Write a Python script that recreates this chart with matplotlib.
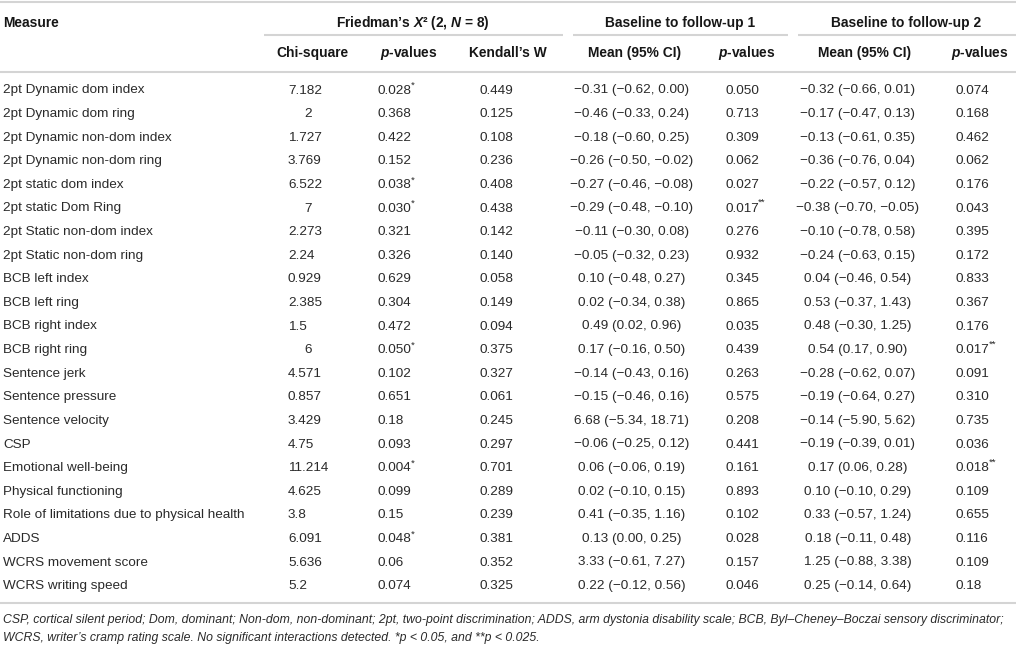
import matplotlib
matplotlib.use("Agg")
import matplotlib.pyplot as plt

plt.rcParams['font.family'] = ['Liberation Sans', 'DejaVu Sans']
plt.rcParams['mathtext.fontset'] = 'custom'
plt.rcParams['mathtext.rm'] = 'Liberation Sans'
plt.rcParams['mathtext.it'] = 'Liberation Sans:italic:bold'
plt.rcParams['mathtext.bf'] = 'Liberation Sans:bold'

measures = [
    "2pt Dynamic dom index", "2pt Dynamic dom ring", "2pt Dynamic non-dom index",
    "2pt Dynamic non-dom ring", "2pt static dom index", "2pt static Dom Ring",
    "2pt Static non-dom index", "2pt Static non-dom ring", "BCB left index",
    "BCB left ring", "BCB right index", "BCB right ring", "Sentence jerk",
    "Sentence pressure", "Sentence velocity", "CSP", "Emotional well-being",
    "Physical functioning", "Role of limitations due to physical health",
    "ADDS", "WCRS movement score", "WCRS writing speed",
]
chi_square = ["7.182", "2", "1.727", "3.769", "6.522", "7", "2.273", "2.24",
              "0.929", "2.385", "1.5", "6", "4.571", "0.857", "3.429", "4.75",
              "11.214", "4.625", "3.8", "6.091", "5.636", "5.2"]
p_friedman = ["0.028*", "0.368", "0.422", "0.152", "0.038*", "0.030*", "0.321",
              "0.326", "0.629", "0.304", "0.472", "0.050*", "0.102", "0.651",
              "0.18", "0.093", "0.004*", "0.099", "0.15", "0.048*", "0.06", "0.074"]
kendall_w = ["0.449", "0.125", "0.108", "0.236", "0.408", "0.438", "0.142",
             "0.140", "0.058", "0.149", "0.094", "0.375", "0.327", "0.061",
             "0.245", "0.297", "0.701", "0.289", "0.239", "0.381", "0.352", "0.325"]
mean_fu1 = ["−0.31 (−0.62, 0.00)", "−0.46 (−0.33, 0.24)", "−0.18 (−0.60, 0.25)",
            "−0.26 (−0.50, −0.02)", "−0.27 (−0.46, −0.08)", "−0.29 (−0.48, −0.10)",
            "−0.11 (−0.30, 0.08)", "−0.05 (−0.32, 0.23)", "0.10 (−0.48, 0.27)",
            "0.02 (−0.34, 0.38)", "0.49 (0.02, 0.96)", "0.17 (−0.16, 0.50)",
            "−0.14 (−0.43, 0.16)", "−0.15 (−0.46, 0.16)", "6.68 (−5.34, 18.71)",
            "−0.06 (−0.25, 0.12)", "0.06 (−0.06, 0.19)", "0.02 (−0.10, 0.15)",
            "0.41 (−0.35, 1.16)", "0.13 (0.00, 0.25)", "3.33 (−0.61, 7.27)",
            "0.22 (−0.12, 0.56)"]
p_fu1 = ["0.050", "0.713", "0.309", "0.062", "0.027", "0.017**", "0.276", "0.932",
         "0.345", "0.865", "0.035", "0.439", "0.263", "0.575", "0.208", "0.441",
         "0.161", "0.893", "0.102", "0.028", "0.157", "0.046"]
mean_fu2 = ["−0.32 (−0.66, 0.01)", "−0.17 (−0.47, 0.13)", "−0.13 (−0.61, 0.35)",
            "−0.36 (−0.76, 0.04)", "−0.22 (−0.57, 0.12)", "−0.38 (−0.70, −0.05)",
            "−0.10 (−0.78, 0.58)", "−0.24 (−0.63, 0.15)", "0.04 (−0.46, 0.54)",
            "0.53 (−0.37, 1.43)", "0.48 (−0.30, 1.25)", "0.54 (0.17, 0.90)",
            "−0.28 (−0.62, 0.07)", "−0.19 (−0.64, 0.27)", "−0.14 (−5.90, 5.62)",
            "−0.19 (−0.39, 0.01)", "0.17 (0.06, 0.28)", "0.10 (−0.10, 0.29)",
            "0.33 (−0.57, 1.24)", "0.18 (−0.11, 0.48)", "1.25 (−0.88, 3.38)",
            "0.25 (−0.14, 0.64)"]
p_fu2 = ["0.074", "0.168", "0.462", "0.062", "0.176", "0.043", "0.395", "0.172",
         "0.833", "0.367", "0.176", "0.017**", "0.091", "0.310", "0.735", "0.036",
         "0.018**", "0.109", "0.655", "0.116", "0.109", "0.18"]

footnote = ("CSP, cortical silent period; Dom, dominant; Non-dom, non-dominant; 2pt, two-point "
            "discrimination; ADDS, arm dystonia disability scale; BCB, Byl–Cheney–Boczai sensory discriminator;\n"
            "WCRS, writer’s cramp rating scale. No significant interactions detected. *p < 0.05, and **p < 0.025.")

TEXT = '#2a2a2a'
HEAD = '#161616'
RULE = '#d4d4d4'
FS = 9.7
HFS = 9.9

fig = plt.figure(figsize=(10.16, 6.46), dpi=100)
ax = fig.add_axes([0, 0, 1, 1])
ax.set_xlim(0, 1016)
ax.set_ylim(646, 0)
ax.axis('off')

dkw = dict(fontsize=FS, color=TEXT, va='center')


def p_cell(x, y, s):
    stars = len(s) - len(s.rstrip('*'))
    base = s.rstrip('*')
    t = ax.text(x, y, base, ha='left', **dkw)
    if stars:
        ypos = 0.92 if stars == 1 else 1.02
        ax.annotate('*' * stars, xy=(1.0, ypos), xycoords=t, xytext=(-0.6, 0),
                    textcoords='offset points', fontsize=6.8, color=TEXT,
                    ha='left', va='center')


# rules
ax.hlines(2, 0, 1016, color=RULE, lw=1.5)
ax.hlines(35, 264, 563, color=RULE, lw=1.5)
ax.hlines(35, 573, 788, color=RULE, lw=1.5)
ax.hlines(35, 798, 1016, color=RULE, lw=1.5)
ax.hlines(72, 0, 1016, color=RULE, lw=1.5)

# headers
hkw = dict(fontsize=HFS, fontweight='bold', color=HEAD, va='center')
ax.text(3, 23, "Measure", ha='left', **hkw)
ax.text(413, 23, r"Friedman’s $X$² (2, $N$ = 8)", ha='center', **hkw)
ax.text(680, 23, "Baseline to follow-up 1", ha='center', **hkw)
ax.text(906, 23, "Baseline to follow-up 2", ha='center', **hkw)
sub = [(312, "Chi-square"), (409, r"$p$-values"), (508, "Kendall’s W"),
       (635, "Mean (95% CI)"), (747, r"$p$-values"), (865, "Mean (95% CI)"),
       (980, r"$p$-values")]
for x, s in sub:
    ax.text(x, 53, s, ha='center', **hkw)

# rows
y0, dy = 90.5, 23.6
for i in range(len(measures)):
    y = y0 + i * dy
    ax.text(3, y, measures[i], ha='left', **dkw)
    c = chi_square[i]
    if '.' in c:
        ax.text(288, y, c, ha='left', **dkw)
    else:
        ax.text(308, y, c, ha='center', **dkw)
    p_cell(378, y, p_friedman[i])
    ax.text(479, y, kendall_w[i], ha='left', **dkw)
    ax.text(632, y, mean_fu1[i], ha='center', **dkw)
    p_cell(725, y, p_fu1[i])
    ax.text(858, y, mean_fu2[i], ha='center', **dkw)
    p_cell(956, y, p_fu2[i])

ax.hlines(603, 0, 1016, color=RULE, lw=1.5)
ax.text(3, 629, footnote, ha='left', va='center', fontsize=8.85, style='italic',
        color=TEXT, linespacing=1.75)

fig.savefig("out.png", dpi=100)
